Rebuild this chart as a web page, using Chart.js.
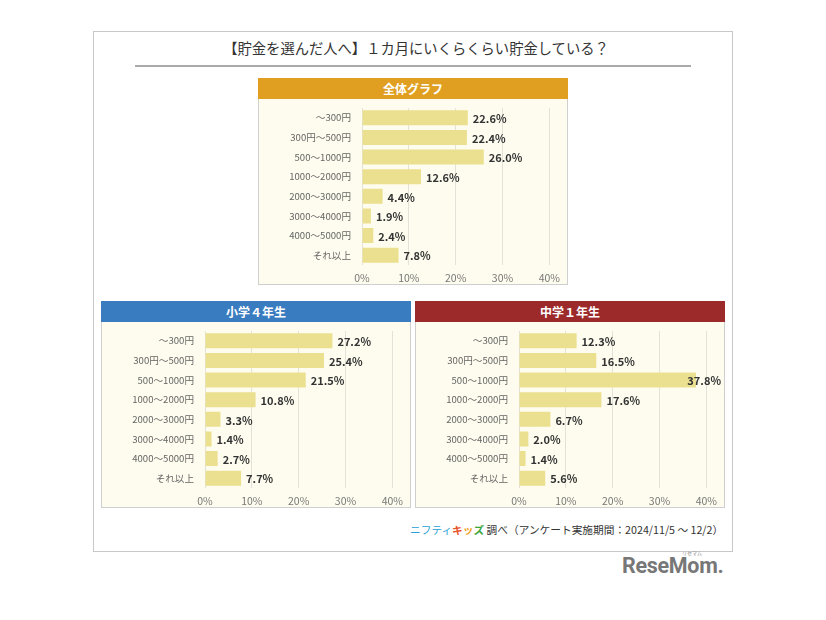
<!DOCTYPE html>
<html>
<head>
<meta charset="utf-8">
<script src="https://cdn.jsdelivr.net/npm/chart.js@4.4.1/dist/chart.umd.min.js"></script>
<style>
  body { margin: 0; width: 826px; height: 620px; background: #fff; position: relative; font-family: "Noto Sans CJK JP", sans-serif; }
  .frame { position: absolute; left: 93px; top: 31px; width: 638px; height: 519px; border: 1px solid #c8c8c8; }
  .title { position: absolute; left: 128px; width: 576px; top: 37px; text-align: center; font-size: 14.3px; color: #333; }
  .rule { position: absolute; left: 135px; top: 65px; width: 556px; height: 2px; background: #aaa; }
  .panel { position: absolute; width: 310px; }
  .head { height: 21px; line-height: 21px; text-align: center; color: #fff; font-weight: bold; font-size: 12px; }
  .body { background: #fefcee; border: 1px solid #cfcfcf; border-top: none; }
  canvas { display: block; }
  .foot { position: absolute; left: 410px; top: 522px; font-size: 10.7px; color: #333; white-space: nowrap; }
  .logo { position: absolute; left: 622px; top: 553px; font-family: Roboto, sans-serif; font-weight: bold; font-size: 21.5px; color: #777; letter-spacing: -0.3px; }
  .kana { position: absolute; left: 682px; top: 549px; font-size: 5px; color: #888; }
</style>
</head>
<body>
<div class="frame"></div>
<div class="title">【貯金を選んだ人へ】１カ月にいくらくらい貯金している？</div>
<div class="rule"></div>

<div class="panel" style="left:258px; top:78px;">
  <div class="head" style="background:#e09f20;">全体グラフ</div>
  <div class="body"><canvas id="c1" width="308" height="185"></canvas></div>
</div>
<div class="panel" style="left:101px; top:301px;">
  <div class="head" style="background:#3a7cc0;">小学４年生</div>
  <div class="body"><canvas id="c2" width="308" height="185"></canvas></div>
</div>
<div class="panel" style="left:415px; top:301px;">
  <div class="head" style="background:#9c2a2a;">中学１年生</div>
  <div class="body"><canvas id="c3" width="308" height="185"></canvas></div>
</div>

<div class="foot"><span style="color:#2a9fd6;">ニフティ</span><b style="color:#e8542a;">キ</b><b style="color:#f0a020;">ッ</b><b style="color:#3aa53a;">ズ</b> 調べ（アンケート実施期間：2024/11/5 ～ 12/2）</div>
<div class="kana">リセマム</div>
<div class="logo">ReseMom.</div>

<script>
var categories = ['～300円', '300円～500円', '500～1000円', '1000～2000円', '2000～3000円', '3000～4000円', '4000～5000円', 'それ以上'];
var allValues = [22.6, 22.4, 26.0, 12.6, 4.4, 1.9, 2.4, 7.8];
var grade4Values = [27.2, 25.4, 21.5, 10.8, 3.3, 1.4, 2.7, 7.7];
var grade7Values = [12.3, 16.5, 37.8, 17.6, 6.7, 2.0, 1.4, 5.6];
var xTicks = [0, 10, 20, 30, 40];

// 値ラベル（バーの右側に表示、はみ出す場合は右端に寄せる）
var valueLabels = {
    id: 'valueLabels',
    afterDatasetsDraw: function(chart) {
        var ctx = chart.ctx;
        var meta = chart.getDatasetMeta(0);
        var values = chart.data.datasets[0].data;
        ctx.save();
        ctx.font = 'bold 11px "Noto Sans CJK JP", sans-serif';
        ctx.fillStyle = '#333';
        ctx.textBaseline = 'middle';
        meta.data.forEach(function(bar, i) {
            var text = values[i].toFixed(1) + '%';
            var w = ctx.measureText(text).width;
            var x = Math.min(bar.x + 5, chart.width - w - 3);
            ctx.fillText(text, x, bar.y + 1);
        });
        ctx.restore();
    }
};

function createChart(id, values) {
    var ctx = document.getElementById(id).getContext('2d');
    new Chart(ctx, {
        type: 'bar',
        data: {
            labels: categories,
            datasets: [{
                data: values,
                backgroundColor: '#ebe08f',
                barPercentage: 0.77,
                categoryPercentage: 1.0
            }]
        },
        options: {
            indexAxis: 'y',
            responsive: false,
            animation: false,
            devicePixelRatio: 1,
            layout: { padding: { top: 9, right: 15, bottom: 0, left: 0 } },
            plugins: { legend: { display: false }, tooltip: { enabled: false } },
            scales: {
                x: {
                    min: 0,
                    max: 40,
                    afterBuildTicks: function(scale) {
                        scale.ticks = xTicks.map(function(v) { return { value: v }; });
                    },
                    afterFit: function(scale) { scale.height = 19; },
                    grid: { color: '#e4e2d8', drawTicks: false },
                    border: { display: false },
                    ticks: {
                        padding: 7,
                        color: '#777',
                        font: { size: 10.5, family: '"Noto Sans CJK JP", sans-serif' },
                        callback: function(v) { return v + '%'; }
                    }
                },
                y: {
                    afterFit: function(scale) {
                        scale.width = 103;
                        scale.paddingTop = 0;
                        scale.paddingBottom = 0;
                    },
                    grid: { display: false },
                    border: { display: false },
                    ticks: {
                        padding: 3,
                        color: '#666',
                        font: { size: 9.6, family: '"Noto Sans CJK JP", sans-serif' }
                    }
                }
            }
        },
        plugins: [valueLabels]
    });
}

createChart('c1', allValues);
createChart('c2', grade4Values);
createChart('c3', grade7Values);
</script>
</body>
</html>
